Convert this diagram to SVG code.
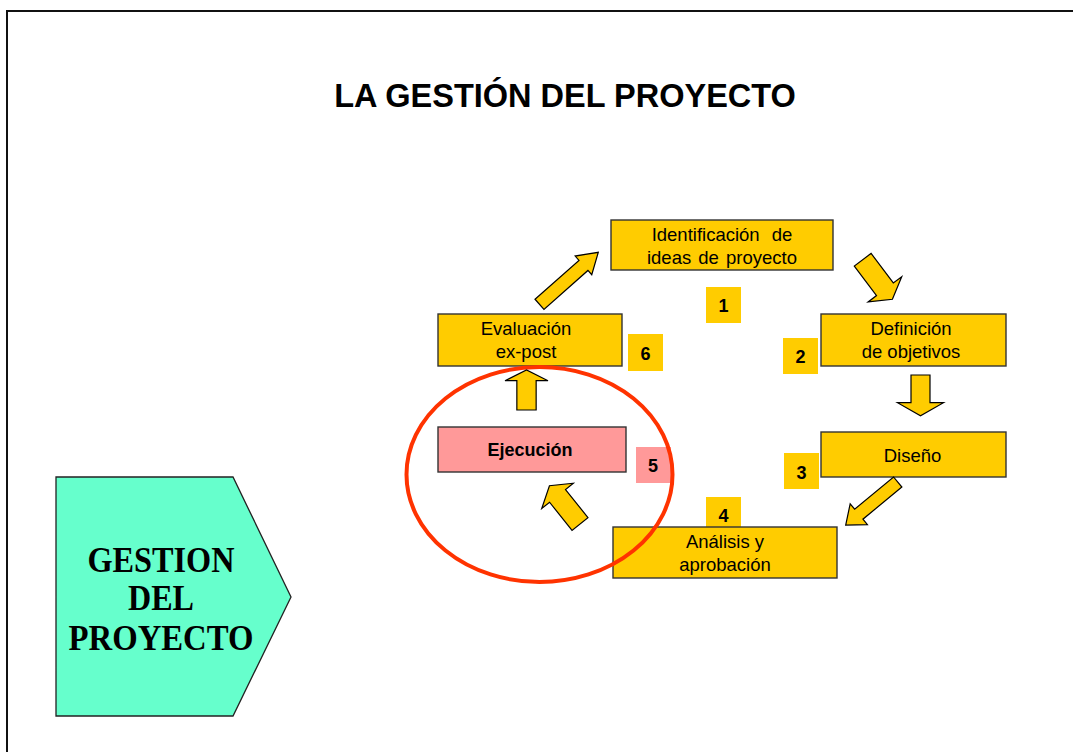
<svg xmlns="http://www.w3.org/2000/svg" width="1073" height="752" viewBox="0 0 1073 752">
<style>
.box{fill:#FFCC00;stroke:#333;stroke-width:1.4}
.badge{fill:#FFCC00}
.pink{fill:#FF9999}
.t{font-family:"Liberation Sans",Arial,sans-serif;font-size:18.5px;fill:#000;text-anchor:middle}
.n{font-family:"Liberation Sans",Arial,sans-serif;font-size:18px;font-weight:bold;fill:#000;text-anchor:middle}
.arr{fill:#FFCC00;stroke:#000;stroke-width:1.2;stroke-linejoin:miter}
.g{font-family:"Liberation Serif","Times New Roman",serif;font-size:35px;font-weight:bold;fill:#000;text-anchor:middle}
</style>
<rect x="0" y="0" width="1073" height="752" fill="#fff"/>
<rect x="7" y="11" width="1100" height="800" fill="none" stroke="#111" stroke-width="2"/>
<text x="565" y="107" font-family="'Liberation Sans',Arial,sans-serif" font-size="32.5" font-weight="bold" text-anchor="middle">LA GESTIÓN DEL PROYECTO</text>

<g id="gestion">
<polygon points="56,477 233,477 291,597 233,716 56,716" fill="#66FFCC" stroke="#222" stroke-width="1.3"/>
<text class="g" x="161" y="572" textLength="147" lengthAdjust="spacingAndGlyphs">GESTION</text>
<text class="g" x="161" y="610" textLength="66" lengthAdjust="spacingAndGlyphs">DEL</text>
<text class="g" x="161" y="650" textLength="185" lengthAdjust="spacingAndGlyphs">PROYECTO</text>
</g>

<g id="n1">
<rect class="box" x="611" y="220" width="222" height="50"/>
<text class="t" x="722" y="241" word-spacing="7">Identificación de</text>
<text class="t" x="722" y="264" word-spacing="2">ideas de proyecto</text>
<rect class="badge" x="706" y="287" width="35" height="36"/>
<text class="n" x="723.5" y="312">1</text>
</g>

<g id="n2">
<rect class="box" x="821" y="314" width="185" height="52"/>
<text class="t" x="911" y="335">Definición</text>
<text class="t" x="911" y="358">de objetivos</text>
<rect class="badge" x="783" y="338" width="35" height="36"/>
<text class="n" x="800.5" y="363">2</text>
</g>

<g id="n3">
<rect class="box" x="821" y="432" width="185" height="45"/>
<text class="t" x="912.5" y="462">Diseño</text>
<rect class="badge" x="784" y="453" width="35" height="36"/>
<text class="n" x="801.5" y="479">3</text>
</g>

<g id="n4">
<rect class="badge" x="706" y="497" width="35" height="31"/>
<text class="n" x="723.5" y="522">4</text>
<rect class="box" x="613" y="527" width="224" height="51"/>
<text class="t" x="725" y="548">Análisis y</text>
<text class="t" x="725" y="571">aprobación</text>
</g>

<g id="n5">
<rect class="box pink" x="438" y="427" width="188" height="45"/>
<text class="n" x="530" y="456" font-size="18.5">Ejecución</text>
<rect class="pink" x="636" y="447" width="35" height="36"/>
<text class="n" x="653" y="472">5</text>
</g>

<g id="n6">
<rect class="box" x="438" y="314" width="184" height="52"/>
<text class="t" x="526" y="335">Evaluación</text>
<text class="t" x="526" y="358">ex-post</text>
<rect class="badge" x="628" y="334" width="35" height="37"/>
<text class="n" x="645.5" y="360">6</text>
</g>

<g id="highlight">
<ellipse cx="539.5" cy="474.5" rx="133" ry="107.5" fill="none" stroke="#FF3300" stroke-width="4"/>
</g>

<g id="connectors">
<path class="arr" transform="translate(539.5,304.3) rotate(-41.5)" d="M0,-6.75 L58.7,-6.75 L58.7,-12.5 L78.5,0 L58.7,12.5 L58.7,6.75 L0,6.75 Z"/>
<path class="arr" transform="translate(862.7,259.7) rotate(53.1)" d="M0,-10.5 L37,-10.5 L37,-21 L49.5,0 L37,21 L37,10.5 L0,10.5 Z"/>
<path class="arr" transform="translate(920.5,375) rotate(90)" d="M0,-9.5 L27.7,-9.5 L27.7,-23 L40.7,0 L27.7,23 L27.7,9.5 L0,9.5 Z"/>
<path class="arr" transform="translate(897.7,482) rotate(140.4)" d="M0,-6.5 L50.5,-6.5 L50.5,-13.5 L67.5,0 L50.5,13.5 L50.5,6.5 L0,6.5 Z"/>
<path class="arr" transform="translate(580,524) rotate(-128.6)" d="M0,-10.2 L36,-10.2 L36,-20.2 L49,0 L36,20.2 L36,10.2 L0,10.2 Z"/>
<path class="arr" transform="translate(526.5,410) rotate(-90)" d="M0,-9.65 L29.3,-9.65 L29.3,-21.5 L40,0 L29.3,21.5 L29.3,9.65 L0,9.65 Z"/>
</g>
</svg>
